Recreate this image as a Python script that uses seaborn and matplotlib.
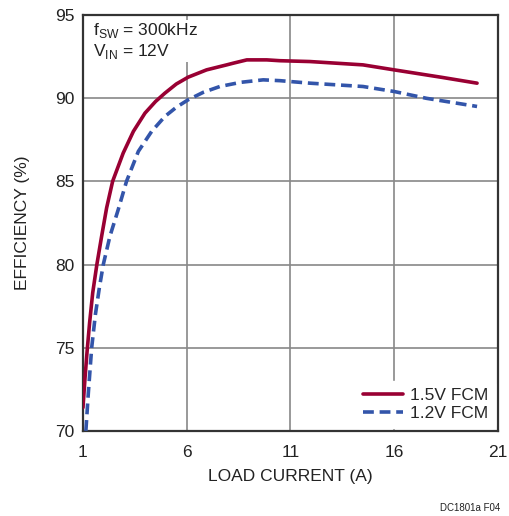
import matplotlib
matplotlib.use('Agg')
import matplotlib.pyplot as plt
from matplotlib import font_manager
import seaborn as sns
import pandas as pd

# datos
x_15 = [1.0, 1.1, 1.2, 1.32, 1.47, 1.67, 1.90, 2.14, 2.43, 2.94, 3.43, 3.99, 4.5, 4.95, 5.5, 6.07, 6.96,
        7.93, 8.24, 8.9, 9.86, 10.5, 11.94, 14.5, 16.0, 18.3, 20.0]
y_15 = [71.4, 73.2, 74.8, 76.5, 78.3, 80.0, 81.7, 83.4, 85.0, 86.7, 88.0, 89.1, 89.8, 90.3, 90.85, 91.26, 91.7,
        92.0, 92.1, 92.3, 92.3, 92.25, 92.2, 92.0, 91.7, 91.25, 90.9]

x_12 = [1.14, 1.26, 1.42, 1.60, 1.79, 1.98, 2.30, 2.70, 3.10, 3.67, 4.31, 4.95, 5.5, 6.07, 6.8, 7.6, 8.6, 9.69,
        10.5, 11.94, 14.5, 16.0, 17.56, 20.0]
y_12 = [70.0, 72.3, 75.0, 77.0, 78.6, 80.0, 81.7, 83.3, 85.0, 86.8, 88.0, 88.9, 89.45, 89.9, 90.35, 90.7, 90.95, 91.1,
        91.05, 90.9, 90.7, 90.4, 89.99, 89.5]

xticks = [1, 6, 11, 16, 21]
yticks = [70, 75, 80, 85, 90, 95]

df = pd.concat([
    pd.DataFrame({'I': x_15, 'eff': y_15, 'serie': '1.5V FCM'}),
    pd.DataFrame({'I': x_12, 'eff': y_12, 'serie': '1.2V FCM'}),
])

sns.set_style('white')
nombres = {f.name for f in font_manager.fontManager.ttflist}
fuente = 'Liberation Sans Narrow' if 'Liberation Sans Narrow' in nombres else 'Liberation Sans'
plt.rcParams['font.family'] = [fuente, 'DejaVu Sans']
plt.rcParams['mathtext.fontset'] = 'custom'
plt.rcParams['mathtext.rm'] = fuente

fig = plt.figure(figsize=(5.09, 5.16), dpi=100)
ax = fig.add_axes([0.163, 0.165, 0.815, 0.806])

sns.lineplot(data=df, x='I', y='eff', hue='serie', style='serie',
             palette={'1.5V FCM': '#990033', '1.2V FCM': '#3355aa'},
             dashes={'1.5V FCM': '', '1.2V FCM': (3, 1.6)},
             linewidth=2.6, sort=False, ax=ax, zorder=3)

ax.set_xlim(1, 21)
ax.set_ylim(70, 95)
ax.set_xticks(xticks)
ax.set_yticks(yticks)
ax.tick_params(length=0, labelsize=12.5, colors='#222222')
ax.tick_params(axis='x', pad=10)
ax.tick_params(axis='y', pad=6)
ax.grid(True, color='#888888', linewidth=1.2)
for s in ax.spines.values():
    s.set_color('#333333')
    s.set_linewidth(1.6)

ax.set_xlabel('LOAD CURRENT (A)', fontsize=12.5, color='#222222', labelpad=7)
ax.set_ylabel('EFFICIENCY (%)', fontsize=12.5, color='#222222', labelpad=18)

leg = ax.legend(loc='lower right', frameon=True, fontsize=12.5, handlelength=2.3,
                handletextpad=0.4, borderaxespad=0.15, labelspacing=0.2)
leg.get_frame().set_edgecolor('white')
leg.get_frame().set_facecolor('white')
leg.get_frame().set_alpha(1)
for h in leg.get_lines():
    h.set_linewidth(2.6)

ax.text(0.025, 0.985, 'f$_{\\mathrm{SW}}$ = 300kHz\nV$_{\\mathrm{IN}}$ = 12V', transform=ax.transAxes,
        ha='left', va='top', fontsize=12.5, color='#222222', linespacing=1.1,
        bbox=dict(facecolor='white', edgecolor='none', pad=1), zorder=4)

fig.text(0.982, 0.006, 'DC1801a F04', ha='right', va='bottom', fontsize=7, color='#222222')

plt.savefig('out.png', dpi=100)
